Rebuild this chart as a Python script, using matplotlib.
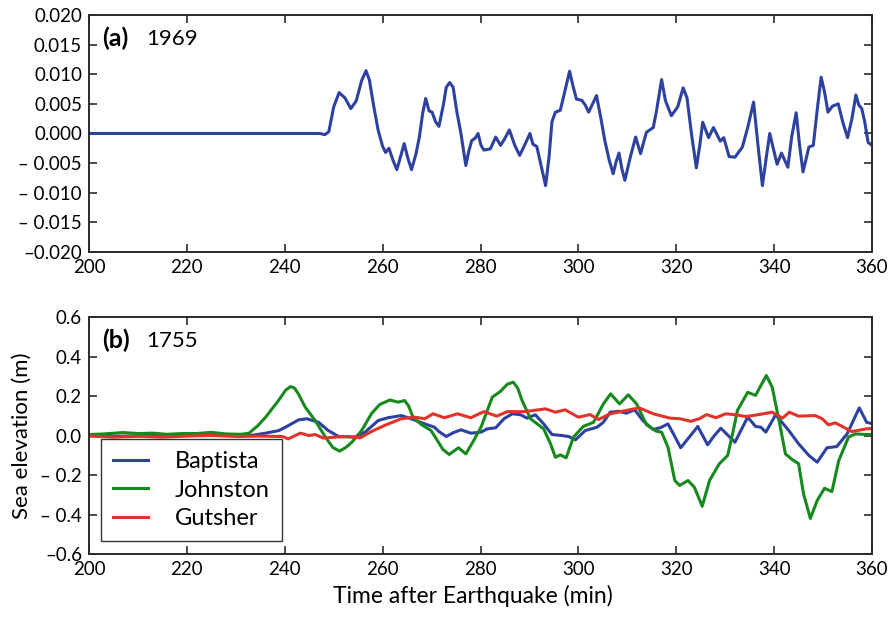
import matplotlib.pyplot as plt
from matplotlib.ticker import FixedLocator, FixedFormatter

plt.rcParams['font.family'] = ['Lato', 'DejaVu Sans']

# (a) 1969 tsunami, sea elevation (m) against time after the earthquake (min)
t_1969 = [200, 247.2, 248.2, 249.0, 250.0, 251.1, 252.3, 253.5, 254.6, 255.7, 256.6, 257.3, 258.2,
          259.1, 260.0, 260.6, 261.3, 262.1, 262.9, 263.7, 264.4, 265.1, 265.9, 266.8, 267.5, 268.2,
          268.8, 269.5, 270.1, 270.8, 271.5, 272.4, 273.0, 273.7, 274.4, 275.2, 276.0, 277.0, 277.6,
          278.2, 278.9, 279.5, 280.1, 280.7, 282.0, 283.1, 284.1, 285.0, 285.9, 287.0, 288.0, 289.1,
          290.1, 290.7, 291.5, 292.4, 293.3, 294.0, 294.6, 295.3, 296.3, 297.2, 298.2, 298.9, 299.6,
          300.7, 301.4, 302.1, 302.9, 303.7, 304.5, 305.4, 306.3, 307.1, 307.7, 308.3, 308.9, 309.5,
          310.6, 311.7, 312.7, 313.9, 315.3, 316.0, 317.0, 317.8, 319.0, 320.3, 321.4, 322.2, 323.1,
          324.1, 324.8, 325.4, 326.6, 327.6, 329.0, 329.7, 330.8, 332.0, 333.5, 334.6, 335.8, 336.7,
          337.6, 338.4, 339.1, 340.6, 341.5, 342.8, 343.6, 344.5, 345.2, 345.9, 347.1, 348.0, 348.8,
          349.6, 350.3, 351.0, 351.9, 353.1, 354.0, 355.0, 355.9, 356.7, 357.3, 357.9, 358.5, 359.2, 360]
eta_1969 = [0, 0, -0.0002, 0.0003, 0.0045, 0.0069, 0.006, 0.0042, 0.0055, 0.0089, 0.0106, 0.009, 0.0045,
            0.0005, -0.0022, -0.0032, -0.0025, -0.0045, -0.0061, -0.0038, -0.0017, -0.004, -0.0061, -0.0035, -0.0006, 0.0035,
            0.0059, 0.0038, 0.0036, 0.002, 0.0012, 0.0048, 0.0078, 0.0086, 0.0078, 0.0035, 0.0, -0.0054, -0.003,
            -0.0012, -0.0008, 0.0, -0.002, -0.0028, -0.0026, -0.0006, -0.002, -0.0008, 0.0006, -0.002, -0.0037, -0.0018,
            0.0, -0.0018, -0.0022, -0.0055, -0.0088, -0.004, 0.002, 0.0036, 0.0039, 0.007, 0.0105, 0.008, 0.0058,
            0.0056, 0.0048, 0.0036, 0.005, 0.0064, 0.003, -0.0012, -0.0045, -0.0068, -0.0048, -0.0033, -0.006, -0.0079,
            -0.004, -0.0006, -0.0034, 0.0002, 0.001, 0.004, 0.0091, 0.0055, 0.003, 0.0045, 0.0077, 0.006, 0.0,
            -0.0058, -0.002, 0.0019, -0.0007, 0.001, -0.0013, -0.0007, -0.0039, -0.004, -0.0023, 0.001, 0.0053, -0.002,
            -0.0088, -0.004, 0.0, -0.0052, -0.0033, -0.0057, -0.0005, 0.0035, -0.002, -0.0065, -0.0023, -0.002, 0.004,
            0.0095, 0.007, 0.0036, 0.0046, 0.005, 0.002, -0.0007, 0.0025, 0.0065, 0.0048, 0.0042, 0.002, -0.0015, -0.002]

# (b) 1755 tsunami, three source models
t_baptista = [200, 205, 210, 215, 220, 225, 230, 233, 236.1, 238.8, 240.8, 242.8, 244.5, 246.9, 248.9,
              251.0, 254.4, 256.4, 259.1, 261.1, 263.8, 265.8, 268.6, 270.6, 271.5, 273.0, 274.5, 276.0,
              278.0, 280.1, 281.4, 283.1, 284.8, 286.5, 288.2, 289.5, 291.2, 292.9, 294.6, 296.6, 298.0,
              299.4, 301.4, 303.8, 305.1, 306.5, 308.2, 309.8, 311.5, 313.2, 315.3, 316.8, 318.3, 319.6,
              320.9, 322.6, 324.4, 326.4, 327.8, 329.1, 330.6, 332.0, 333.3, 334.6, 336.2, 337.3, 338.3,
              340.3, 343.0, 345.0, 347.1, 348.8, 350.8, 352.8, 354.9, 357.4, 358.9, 360]
eta_baptista = [0.0, -0.004, -0.002, 0.002, 0.0, 0.004, 0.0, 0.0, 0.012, 0.025, 0.051, 0.079, 0.085, 0.067, 0.025,
                -0.005, -0.008, 0.017, 0.076, 0.09, 0.101, 0.085, 0.059, 0.042, 0.02, -0.005, 0.015, 0.029,
                0.012, 0.017, 0.034, 0.039, 0.085, 0.11, 0.105, 0.088, 0.105, 0.059, 0.005, 0.0, -0.005,
                -0.022, 0.025, 0.042, 0.067, 0.118, 0.123, 0.113, 0.13, 0.075, 0.03, 0.04, 0.059, 0.0,
                -0.062, -0.01, 0.046, -0.047, 0.0, 0.037, 0.0, -0.034, 0.03, 0.093, 0.046, 0.042, 0.017,
                0.105, 0.025, -0.042, -0.101, -0.135, -0.062, -0.056, 0.008, 0.14, 0.067, 0.06]

t_johnston = [200, 203, 207, 210, 213, 216, 219, 222, 225, 228, 231, 232.7, 234.5, 236.1, 238.8, 240.2,
              241.2, 242.0, 242.8, 244.2, 246.2, 248.3, 249.8, 251.2, 252.5, 253.7, 255.7, 257.7, 259.4,
              261.5, 263.1, 264.5, 265.3, 266.2, 267.9, 269.9, 271.3, 272.3, 273.6, 275.5, 277.0, 278.5,
              280.1, 282.4, 284.1, 285.5, 286.7, 287.6, 288.5, 290.2, 292.9, 294.3, 295.3, 296.3, 297.5,
              299.0, 301.0, 303.1, 305.1, 306.6, 308.4, 310.2, 311.9, 313.9, 315.9, 317.0, 318.3, 319.7,
              320.7, 322.4, 323.7, 325.3, 326.8, 328.8, 330.5, 331.5, 332.5, 334.6, 336.2, 338.4, 339.6,
              341.0, 342.3, 343.7, 345.0, 346.0, 347.4, 348.8, 350.3, 351.8, 353.2, 355.2, 356.6, 358.9, 360]
eta_johnston = [0.005, 0.008, 0.015, 0.01, 0.012, 0.006, 0.01, 0.01, 0.016, 0.008, 0.006, 0.012, 0.05, 0.093, 0.18, 0.23,
                0.248, 0.24, 0.21, 0.143, 0.076, -0.008, -0.06, -0.079, -0.06, -0.034, 0.025, 0.11, 0.157,
                0.18, 0.169, 0.177, 0.15, 0.093, 0.056, 0.025, -0.03, -0.07, -0.096, -0.062, -0.093, -0.03,
                0.042, 0.194, 0.224, 0.26, 0.27, 0.24, 0.177, 0.085, 0.034, -0.042, -0.11, -0.098, -0.113,
                -0.008, 0.046, 0.067, 0.16, 0.211, 0.16, 0.206, 0.16, 0.055, 0.022, 0.017, -0.059, -0.228,
                -0.253, -0.228, -0.262, -0.358, -0.228, -0.143, -0.101, 0.008, 0.127, 0.219, 0.203, 0.304, 0.245,
                0.076, -0.093, -0.122, -0.143, -0.295, -0.42, -0.329, -0.267, -0.284, -0.127, -0.008, 0.008, 0.005, 0.005]

t_gutsher = [200, 205, 210, 215, 220, 225, 230, 235, 239.5, 240.7, 243.2, 244.9, 246.2, 247.9, 250.3,
             253.0, 255.4, 257.7, 260.4, 263.8, 266.5, 268.6, 270.3, 272.6, 275.3, 278.0, 280.7, 283.3,
             285.5, 288.9, 290.9, 293.3, 295.3, 297.3, 300.0, 302.4, 304.1, 306.5, 309.8, 312.4, 315.3,
             318.7, 320.7, 323.0, 324.7, 326.2, 328.1, 330.1, 332.2, 334.2, 336.9, 339.6, 341.7, 343.1,
             345.0, 348.4, 349.8, 351.1, 352.5, 354.2, 355.9, 358.9, 360]
eta_gutsher = [-0.003, -0.008, -0.004, -0.008, -0.003, 0.0, -0.005, -0.003, -0.005, -0.017, 0.012, 0.0, 0.005, -0.013, -0.008,
               -0.005, -0.012, 0.02, 0.051, 0.085, 0.093, 0.085, 0.11, 0.09, 0.11, 0.09, 0.121, 0.098,
               0.121, 0.121, 0.127, 0.135, 0.118, 0.13, 0.093, 0.106, 0.081, 0.11, 0.127, 0.14, 0.11,
               0.088, 0.085, 0.072, 0.085, 0.106, 0.09, 0.11, 0.105, 0.096, 0.106, 0.118, 0.088, 0.118,
               0.098, 0.101, 0.085, 0.054, 0.064, 0.042, 0.02, 0.034, 0.035]

x_ticks = [200, 220, 240, 260, 280, 300, 320, 340, 360]
a_ticks = [0.020, 0.015, 0.010, 0.005, 0.000, -0.005, -0.010, -0.015, -0.020]
a_labels = ['0.020', '0.015', '0.010', '0.005', '0.000',
            '\u2013 0.005', '\u2013 0.010', '\u2013 0.015', '\u20130.020']
b_ticks = [0.6, 0.4, 0.2, 0.0, -0.2, -0.4, -0.6]
b_labels = ['0.6', '0.4', '0.2', '0.0', '\u2013 0.2', '\u2013 0.4', '\u20130.6']

blue = '#2d42a0'
green = '#168a1e'
red = '#e2332a'
spine_col = '#2b2b2b'

fig = plt.figure(figsize=(8.91, 6.17), dpi=100)
ax1 = fig.add_axes([0.0999, 0.5916, 0.8788, 0.3841])
ax2 = fig.add_axes([0.0999, 0.1021, 0.8788, 0.3841])


def style(ax, yticks, ylabels, ylim):
    ax.set_xlim(200, 360)
    ax.set_ylim(*ylim)
    ax.xaxis.set_major_locator(FixedLocator(x_ticks))
    ax.yaxis.set_major_locator(FixedLocator(yticks))
    ax.yaxis.set_major_formatter(FixedFormatter(ylabels))
    ax.tick_params(direction='in', length=6, width=1.2, color=spine_col,
                   top=True, right=True, labelsize=13.5, pad=5)
    for s in ax.spines.values():
        s.set_linewidth(1.4)
        s.set_color(spine_col)


ax1.plot(t_1969, eta_1969, color=blue, lw=2.2, solid_joinstyle='round')
style(ax1, a_ticks, a_labels, (-0.020, 0.020))
ax1.text(0.017, 0.95, '(a)', transform=ax1.transAxes, fontsize=18, fontweight='bold', va='top')
ax1.text(0.073, 0.94, '1969', transform=ax1.transAxes, fontsize=16, va='top')

ax2.plot(t_baptista, eta_baptista, color=blue, lw=2.2, label='Baptista', solid_joinstyle='round')
ax2.plot(t_johnston, eta_johnston, color=green, lw=2.2, label='Johnston', solid_joinstyle='round')
ax2.plot(t_gutsher, eta_gutsher, color=red, lw=2.2, label='Gutsher', solid_joinstyle='round')
style(ax2, b_ticks, b_labels, (-0.6, 0.6))
ax2.text(0.017, 0.95, '(b)', transform=ax2.transAxes, fontsize=18, fontweight='bold', va='top')
ax2.text(0.073, 0.94, '1755', transform=ax2.transAxes, fontsize=16, va='top')

leg = ax2.legend(loc='upper left', bbox_to_anchor=(0.015, 0.485), borderaxespad=0,
                 fontsize=17, frameon=True, fancybox=False, handlelength=1.5,
                 handletextpad=1.15, labelspacing=0.33, borderpad=0.5)
leg.get_frame().set_edgecolor('black')
leg.get_frame().set_linewidth(1.0)

ax2.set_xlabel('Time after Earthquake (min)', fontsize=16.5)
ax2.xaxis.set_label_coords(0.49, -0.13)
ax2.set_ylabel('Sea elevation (m)', fontsize=16, labelpad=6)

fig.savefig('out.png', dpi=100)
